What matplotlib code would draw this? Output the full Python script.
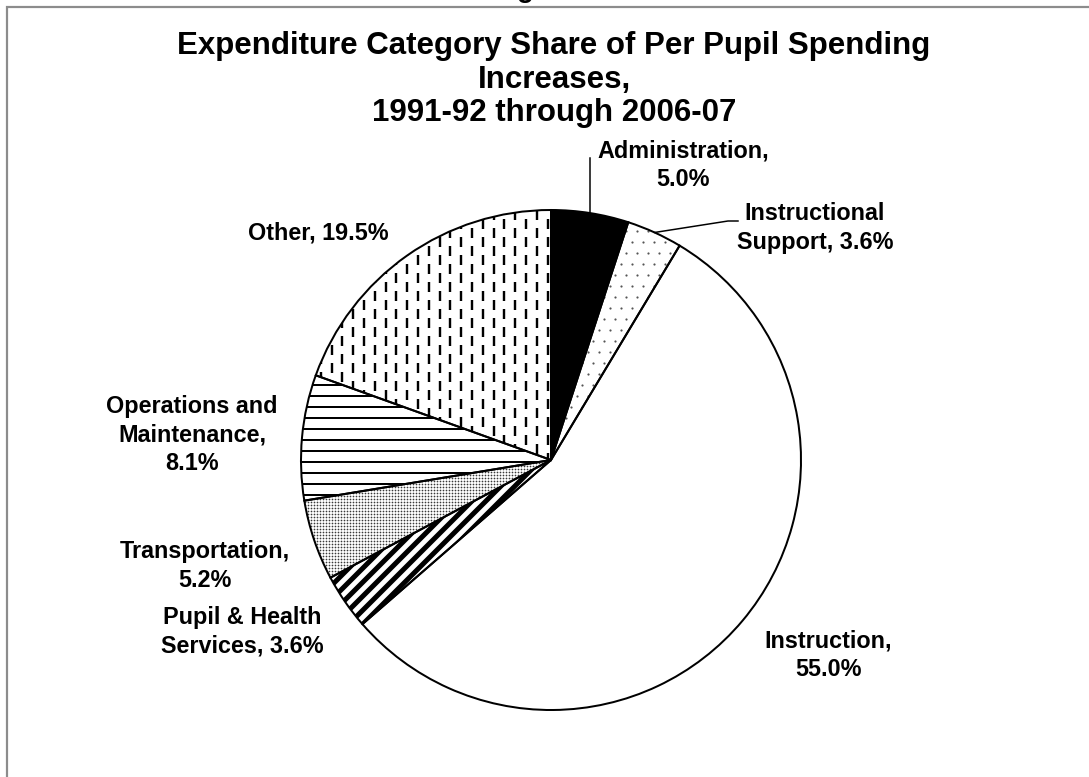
import numpy as np
import matplotlib
matplotlib.use("Agg")
import matplotlib.pyplot as plt
from matplotlib.patches import Wedge
from matplotlib.collections import LineCollection

# ---- data -------------------------------------------------------------
categories = ["Administration", "Instructional Support", "Instruction",
              "Pupil & Health Services", "Transportation",
              "Operations and Maintenance", "Other"]
shares = [5.0, 3.6, 55.0, 3.6, 5.2, 8.1, 19.5]
label_heads = ["Administration,\n", "Instructional\nSupport, ", "Instruction,\n",
               "Pupil & Health\nServices, ", "Transportation,\n",
               "Operations and\nMaintenance,\n", "Other, "]
title_lines = ["Expenditure Category Share of Per Pupil Spending",
               "Increases,",
               "1991-92 through 2006-07"]

# ---- canvas in pixel units (y measured from the top) -------------------
W, H = 1089, 777
fig = plt.figure(figsize=(W / 100, H / 100), dpi=100)
ax = fig.add_axes([0, 0, 1, 1])


def Y(y):
    return H - y


FONT = "Liberation Sans"
PX = 72 / 100  # points per pixel

# ---- pie ---------------------------------------------------------------
cx, cy, R = 551, Y(460), 250
wedges, _ = ax.pie(shares, center=(cx, cy), radius=R, startangle=90,
                   counterclock=False, frame=True,
                   colors=["black", "white", "white", "white", "white",
                           "white", "white"],
                   wedgeprops=dict(linewidth=0))
ax.set_xlim(0, W)
ax.set_ylim(0, H)
ax.set_aspect("auto")
ax.axis("off")

# frame around the chart area
ax.plot([7, 7, W + 20], [Y(H + 20), Y(7), Y(7)], color="#8c8c8c",
        lw=2.2 * PX, clip_on=False, solid_joinstyle="miter")
# tail of a heading sitting above the frame
ax.text(525, Y(-3), "g", fontsize=20, fontweight="bold", family=FONT,
        ha="center", va="baseline", color="black")

x0, x1, y0, y1 = cx - R - 5, cx + R + 5, cy - R - 5, cy + R + 5


def dots(wedge, step, size_px, color, stagger):
    xs, ys = [], []
    for j, yy in enumerate(np.arange(y0, y1, step)):
        off = step / 2 if (stagger and j % 2) else 0
        for xx in np.arange(x0 + off, x1, step):
            xs.append(xx)
            ys.append(yy)
    sc = ax.scatter(xs, ys, s=(size_px * PX) ** 2, color=color,
                    linewidths=0, marker="o", zorder=2)
    sc.set_clip_path(wedge)


def segments(wedge, segs, lw_px, color="black"):
    lc = LineCollection(segs, colors=color, linewidths=lw_px * PX, zorder=2,
                        capstyle="butt")
    ax.add_collection(lc)
    lc.set_clip_path(wedge)


# Instructional Support: sparse staggered dots
dots(wedges[1], 11, 2.2, "#555555", True)

# Pupil & Health Services: bold diagonal stripes
segs = []
for c in np.arange(x0 - 2 * R, x1 + 2 * R, 14):
    segs.append([(c, y0), (c + (y1 - y0), y1)])
segments(wedges[3], segs, 5.0)

# Transportation: fine dense dots
dots(wedges[4], 3, 1.7, "#3a3a3a", False)

# Operations and Maintenance: horizontal rules
segs = [[(x0, yy), (x1, yy)] for yy in np.arange(y0, y1, 11)]
segments(wedges[5], segs, 2.0)

# Other: staggered vertical dashes
segs = []
period, dash = 18, 10
for k, xx in enumerate(np.arange(cx - 3.5, x0, -10.8)):
    off = period / 2 if k % 2 else 0
    for yy in np.arange(y0 + off, y1, period):
        segs.append([(xx, yy), (xx, yy + dash)])
segments(wedges[6], segs, 2.4)

# wedge outlines on top of the fills
for w in wedges:
    ax.add_patch(Wedge(w.center, w.r, w.theta1, w.theta2, fill=False,
                       edgecolor="black", linewidth=2.0 * PX, zorder=3))

# ---- labels ------------------------------------------------------------
label_pos = [(683, 165), (815, 228), (828, 655), (242, 632),
             (205, 566), (192, 435), (318, 233)]
for head, v, (lx, ly) in zip(label_heads, shares, label_pos):
    ax.text(lx, Y(ly), f"{head}{v:.1f}%", fontsize=16.8, fontweight="bold",
            family=FONT, ha="center", va="center", multialignment="center",
            linespacing=1.32, zorder=4)


# leader lines for the two thin slices at the top
def edge_point(w):
    mid = np.deg2rad((w.theta1 + w.theta2) / 2)
    return cx + R * np.cos(mid), cy + R * np.sin(mid)


ex, ey = edge_point(wedges[0])
ax.plot([ex, ex], [ey, Y(158)], color="black", lw=1.5 * PX, zorder=4)
ex, ey = edge_point(wedges[1])
ax.plot([ex, 728, 738], [ey, Y(221), Y(221)], color="black", lw=1.5 * PX,
        zorder=4)

# ---- title -------------------------------------------------------------
for line, ty in zip(title_lines, [46, 80, 113]):
    ax.text(554, Y(ty), line, fontsize=22.5, fontweight="bold", family=FONT,
            ha="center", va="center")

fig.savefig("out.png", dpi=100)
